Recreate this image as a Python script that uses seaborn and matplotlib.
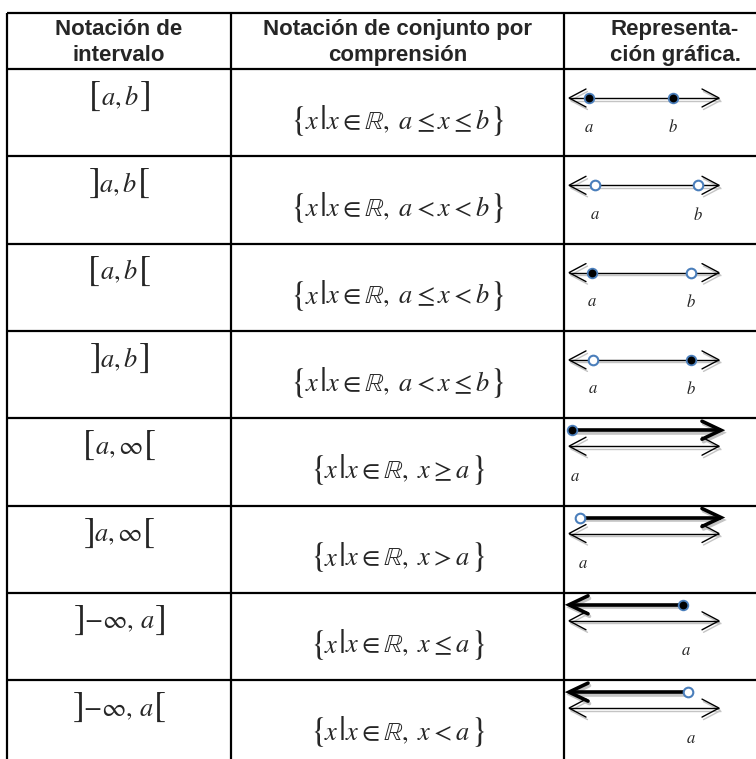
import matplotlib
matplotlib.use("Agg")
import matplotlib.pyplot as plt
import seaborn as sns

# ---- table content ----
header_lines = [
    ["Notación de", "intervalo"],
    ["Notación de conjunto por", "comprensión"],
    ["Representa-", "ción gráfica."],
]

interval_open_sym = ["[", "]", "[", "]", "[", "]", "]", "]"]
interval_body = ["a,b", "a,b", "a,b", "a,b", r"a,\infty", r"a,\infty",
                 r"-\infty,\,a", r"-\infty,\,a"]
interval_close_sym = ["]", "[", "[", "]", "[", "[", "]", "["]

set_condition = [r"a\leq x\leq b", r"a<x<b", r"a\leq x<b", r"a<x\leq b",
                 r"x\geq a", r"x>a", r"x\leq a", r"x<a"]

# number line endpoints: "closed", "open" or None (infinite side)
left_end = ["closed", "open", "closed", "open", "closed", "open", None, None]
right_end = ["closed", "open", "open", "closed", None, None, "closed", "open"]
# where a and b sit along the drawn line (0 = left tip, 1 = right tip)
pos_a = [0.13, 0.17, 0.15, 0.16, 0.02, 0.07, 0.76, 0.79]
pos_b = [0.69, 0.86, 0.81, 0.81, None, None, None, None]

# ---- layout (pixels) ----
W, H = 756, 759
col_x = [7, 231, 564, 790]
header_top, header_bot = 13, 69
row_h = 87.3
line_x0, line_x1 = 569, 719
BLUE = "#4a7ebb"
SHADOW = "#c4c4c4"

sns.set_theme(style="white")
plt.rcParams["mathtext.fontset"] = "stix"
plt.rcParams["font.family"] = ["Liberation Sans", "DejaVu Sans"]

fig = plt.figure(figsize=(W / 100, H / 100), dpi=100)
ax = fig.add_axes([0, 0, 1, 1])
ax.set_xlim(0, W)
ax.set_ylim(H, 0)
ax.axis("off")
renderer = fig.canvas.get_renderer()

n_rows = len(interval_body)
row_tops = [header_bot + i * row_h for i in range(n_rows)]

# grid
ax.vlines(col_x, header_top, header_bot + n_rows * row_h, color="black", lw=1.6)
ax.hlines([header_top, header_bot] + row_tops[1:] + [header_bot + n_rows * row_h],
          col_x[0], col_x[-1], color="black", lw=1.6)

# header
for c, lines in enumerate(header_lines):
    cx = (col_x[c] + col_x[c + 1]) / 2 if c < 2 else 675
    for k, s in enumerate(lines):
        ax.text(cx, 35 + k * 26, s, ha="center", va="baseline",
                fontsize=16, fontweight="bold")


def put_pieces(pieces, cx, base_y):
    """Lay out text pieces of different sizes side by side, centred on cx."""
    texts = []
    for s, size in pieces:
        t = ax.text(0, base_y, s, fontsize=size, ha="left", va="baseline")
        texts.append(t)
    widths = [t.get_window_extent(renderer).width for t in texts]
    x = cx - sum(widths) / 2
    for t, w in zip(texts, widths):
        t.set_x(x)
        x += w


def line_with_shadow(x0, x1, y, lw):
    ax.plot([x0 + 1.5, x1 + 1.5], [y + 2.5, y + 2.5], color=SHADOW, lw=lw,
            solid_capstyle="butt", zorder=2)
    ax.plot([x0, x1], [y, y], color="black", lw=lw, solid_capstyle="butt", zorder=3)


def chevron(x_tip, y, direction, lw, length=17, half=9):
    xs = [x_tip - direction * length, x_tip, x_tip - direction * length]
    ys = [y - half, y, y + half]
    ax.plot([v + 1.5 for v in xs], [v + 2.5 for v in ys], color=SHADOW, lw=lw,
            zorder=2, solid_joinstyle="miter")
    ax.plot(xs, ys, color="black", lw=lw, zorder=3, solid_joinstyle="miter")


def to_px(p):
    return line_x0 + p * (line_x1 - line_x0)


closed_x, closed_y, open_x, open_y = [], [], [], []

for i in range(n_rows):
    top = row_tops[i]
    # interval notation
    put_pieces([("$" + interval_open_sym[i] + "$", 26),
                ("$" + interval_body[i] + "$", 19),
                ("$" + interval_close_sym[i] + "$", 26)],
               (col_x[0] + col_x[1]) / 2, top + 36)
    # set-builder notation
    put_pieces([(r"$\{$", 25), ("$x$", 19), ("$|$", 25),
                (r"$x\in\mathbb{R},\ " + set_condition[i] + "$", 19),
                (r"$\}$", 25)],
               (col_x[1] + col_x[2]) / 2, top + 60)

    xa = to_px(pos_a[i])
    ends = {"closed": (closed_x, closed_y), "open": (open_x, open_y)}
    if pos_b[i] is not None:
        # bounded interval: thin line with both arrows and two dots
        y = top + 29
        line_with_shadow(line_x0, line_x1, y, 1.0)
        chevron(line_x0, y, -1, 1.0)
        chevron(line_x1, y, 1, 1.0)
        xb = to_px(pos_b[i])
        ends[left_end[i]][0].append(xa)
        ends[left_end[i]][1].append(y)
        ends[right_end[i]][0].append(xb)
        ends[right_end[i]][1].append(y)
        ax.text(xa, top + 58, "$a$", fontsize=12, ha="center", va="center")
        ax.text(xb, top + 58, "$b$", fontsize=12, ha="center", va="center")
    else:
        yt, yl = top + 12, top + 28
        line_with_shadow(line_x0, line_x1, yl, 1.0)
        chevron(line_x0, yl, -1, 1.0)
        chevron(line_x1, yl, 1, 1.0)
        if left_end[i] is not None:
            line_with_shadow(xa, line_x1 + 2, yt, 2.6)
            chevron(line_x1 + 2, yt, 1, 2.6, length=19, half=9)
            kind = left_end[i]
        else:
            line_with_shadow(line_x0, xa, yt, 2.6)
            chevron(line_x0, yt, -1, 2.6, length=19, half=9)
            kind = right_end[i]
        ends[kind][0].append(xa)
        ends[kind][1].append(yt)
        ax.text(xa + 3, top + 58, "$a$", fontsize=12, ha="center", va="center")

sns.scatterplot(x=closed_x, y=closed_y, s=48, color="black", edgecolor=BLUE,
                linewidth=1.3, ax=ax, zorder=5)
sns.scatterplot(x=open_x, y=open_y, s=48, color="white", edgecolor=BLUE,
                linewidth=1.5, ax=ax, zorder=5)
ax.set_xlim(0, W)
ax.set_ylim(H, 0)
ax.axis("off")

fig.savefig("out.png", dpi=100)
